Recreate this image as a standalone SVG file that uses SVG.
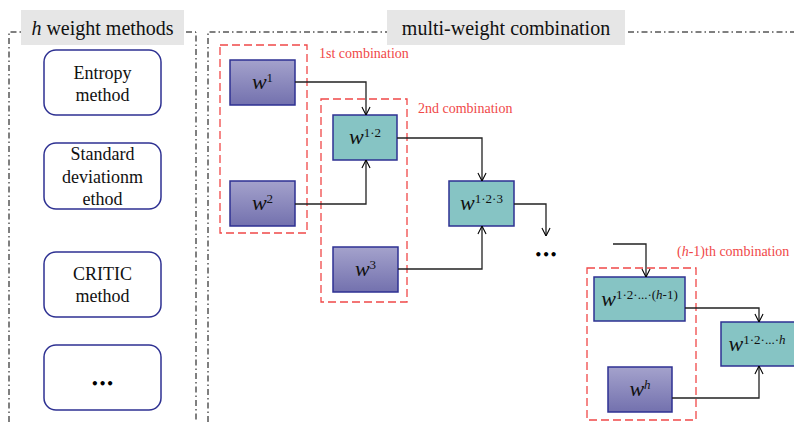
<svg xmlns="http://www.w3.org/2000/svg" width="794" height="422" viewBox="0 0 794 422">
  <defs>
    <linearGradient id="purpleFill" x1="0" y1="0" x2="0" y2="1">
      <stop offset="0" stop-color="#a4a2cc"/>
      <stop offset="1" stop-color="#7371ae"/>
    </linearGradient>
    <marker id="openArrow" viewBox="0 0 10 10" refX="9.5" refY="5" markerWidth="9" markerHeight="10" markerUnits="userSpaceOnUse" orient="auto">
      <path d="M0.5,0.5 L9.5,5 L0.5,9.5" fill="none" stroke="#000" stroke-width="1.2"/>
    </marker>
    <style>
      .frame { fill: none; stroke: #000; stroke-width: 1; stroke-dasharray: 6 3 1.5 3; }
      .header { fill: #e6e6e6; }
      .headerText { font-family: "Liberation Serif", serif; font-size: 20px; fill: #111; text-anchor: middle; }
      .method { fill: #fff; stroke: #2e3192; stroke-width: 1.5; }
      .methodText { font-family: "Liberation Serif", serif; font-size: 18px; fill: #111; text-anchor: middle; }
      .weight { fill: url(#purpleFill); stroke: #2e3192; stroke-width: 1.5; }
      .combined { fill: #86c4c4; stroke: #2e3192; stroke-width: 1.5; }
      .wText { font-family: "Liberation Serif", serif; font-size: 22px; font-style: italic; fill: #111; text-anchor: middle; }
      .sup { font-size: 13px; font-style: normal; }
      .supi { font-size: 13px; font-style: italic; }
      .group { fill: none; stroke: #f04848; stroke-width: 1.3; stroke-dasharray: 8 4; }
      .groupText { font-family: "Liberation Serif", serif; font-size: 14px; fill: #f04848; }
      .link { fill: none; stroke: #222; stroke-width: 1.3; marker-end: url(#openArrow); }
      .dots { font-family: "DejaVu Sans", sans-serif; font-size: 12px; font-weight: bold; fill: #000; text-anchor: middle; }
    </style>
  </defs>

  <!-- panel frames -->
  <g id="panels">
    <path class="frame" d="M9,422 V32 H196 V422"/>
    <path class="frame" d="M208,422 V32 H800"/>
    <rect class="header" x="21" y="10" width="163" height="35"/>
    <text class="headerText" x="102.5" y="35"><tspan font-style="italic">h</tspan> weight methods</text>
    <rect class="header" x="387" y="10" width="238" height="35"/>
    <text class="headerText" x="506" y="35">multi-weight combination</text>
  </g>

  <!-- weighting methods -->
  <g id="entropy">
    <rect class="method" x="44" y="50" width="117" height="65" rx="12"/>
    <text class="methodText" x="102.5" y="79">Entropy</text>
    <text class="methodText" x="102.5" y="101">method</text>
  </g>
  <g id="stddev">
    <rect class="method" x="44" y="143" width="117" height="66" rx="12"/>
    <text class="methodText" x="102.5" y="160">Standard</text>
    <text class="methodText" x="102.5" y="183">deviationm</text>
    <text class="methodText" x="102.5" y="205">ethod</text>
  </g>
  <g id="critic">
    <rect class="method" x="44" y="252" width="117" height="65" rx="12"/>
    <text class="methodText" x="102.5" y="280">CRITIC</text>
    <text class="methodText" x="102.5" y="302">method</text>
  </g>
  <g id="more-methods">
    <rect class="method" x="44" y="345" width="117" height="65" rx="12"/>
    <text class="dots" x="102.5" y="388">•••</text>
  </g>

  <!-- combination groups -->
  <g id="group1">
    <rect class="group" x="220" y="45" width="87" height="188"/>
    <text class="groupText" x="319" y="58">1st combination</text>
  </g>
  <g id="group2">
    <rect class="group" x="321" y="99" width="86" height="203"/>
    <text class="groupText" x="418" y="113">2nd combination</text>
  </g>
  <g id="group3">
    <rect class="group" x="587" y="268" width="109" height="152"/>
    <text class="groupText" x="677" y="256">(<tspan font-style="italic">h</tspan>-1)th combination</text>
  </g>

  <!-- weight nodes -->
  <g id="w1">
    <rect class="weight" x="230" y="60" width="65" height="45"/>
    <text class="wText" x="262.5" y="89">w<tspan class="sup" dy="-7">1</tspan></text>
  </g>
  <g id="w2">
    <rect class="weight" x="230" y="181" width="65" height="45"/>
    <text class="wText" x="262.5" y="210">w<tspan class="sup" dy="-7">2</tspan></text>
  </g>
  <g id="w12">
    <rect class="combined" x="333" y="115" width="64" height="45"/>
    <text class="wText" x="365" y="144">w<tspan class="sup" dy="-7">1·2</tspan></text>
  </g>
  <g id="w3">
    <rect class="weight" x="333" y="247" width="65" height="45"/>
    <text class="wText" x="365.5" y="276">w<tspan class="sup" dy="-7">3</tspan></text>
  </g>
  <g id="w123">
    <rect class="combined" x="449" y="181" width="65" height="45"/>
    <text class="wText" x="481.5" y="210">w<tspan class="sup" dy="-7">1·2·3</tspan></text>
  </g>
  <g id="ellipsis">
    <text class="dots" x="546" y="259">•••</text>
  </g>
  <g id="w12h1">
    <rect class="combined" x="594" y="277" width="91" height="44"/>
    <text class="wText" x="639.5" y="306">w<tspan class="sup" dy="-7">1·2·...·(</tspan><tspan class="supi">h</tspan><tspan class="sup">-1)</tspan></text>
  </g>
  <g id="wh">
    <rect class="weight" x="608" y="367" width="64" height="45"/>
    <text class="wText" x="640" y="396">w<tspan class="supi" dy="-7">h</tspan></text>
  </g>
  <g id="w12h">
    <rect class="combined" x="721" y="322" width="80" height="44"/>
    <text class="wText" x="757" y="351">w<tspan class="sup" dy="-7">1·2·...·</tspan><tspan class="supi">h</tspan></text>
  </g>

  <!-- connectors -->
  <g id="connectors">
    <path class="link" d="M295,82 H366 V115"/>
    <path class="link" d="M295,204 H366 V160"/>
    <path class="link" d="M397,138 H482 V181"/>
    <path class="link" d="M398,269 H482 V226"/>
    <path class="link" d="M514,204 H546 V236"/>
    <path class="link" d="M613,244 H646 V277"/>
    <path class="link" d="M685,308 H759 V322"/>
    <path class="link" d="M672,398 H759 V366"/>
  </g>
</svg>
